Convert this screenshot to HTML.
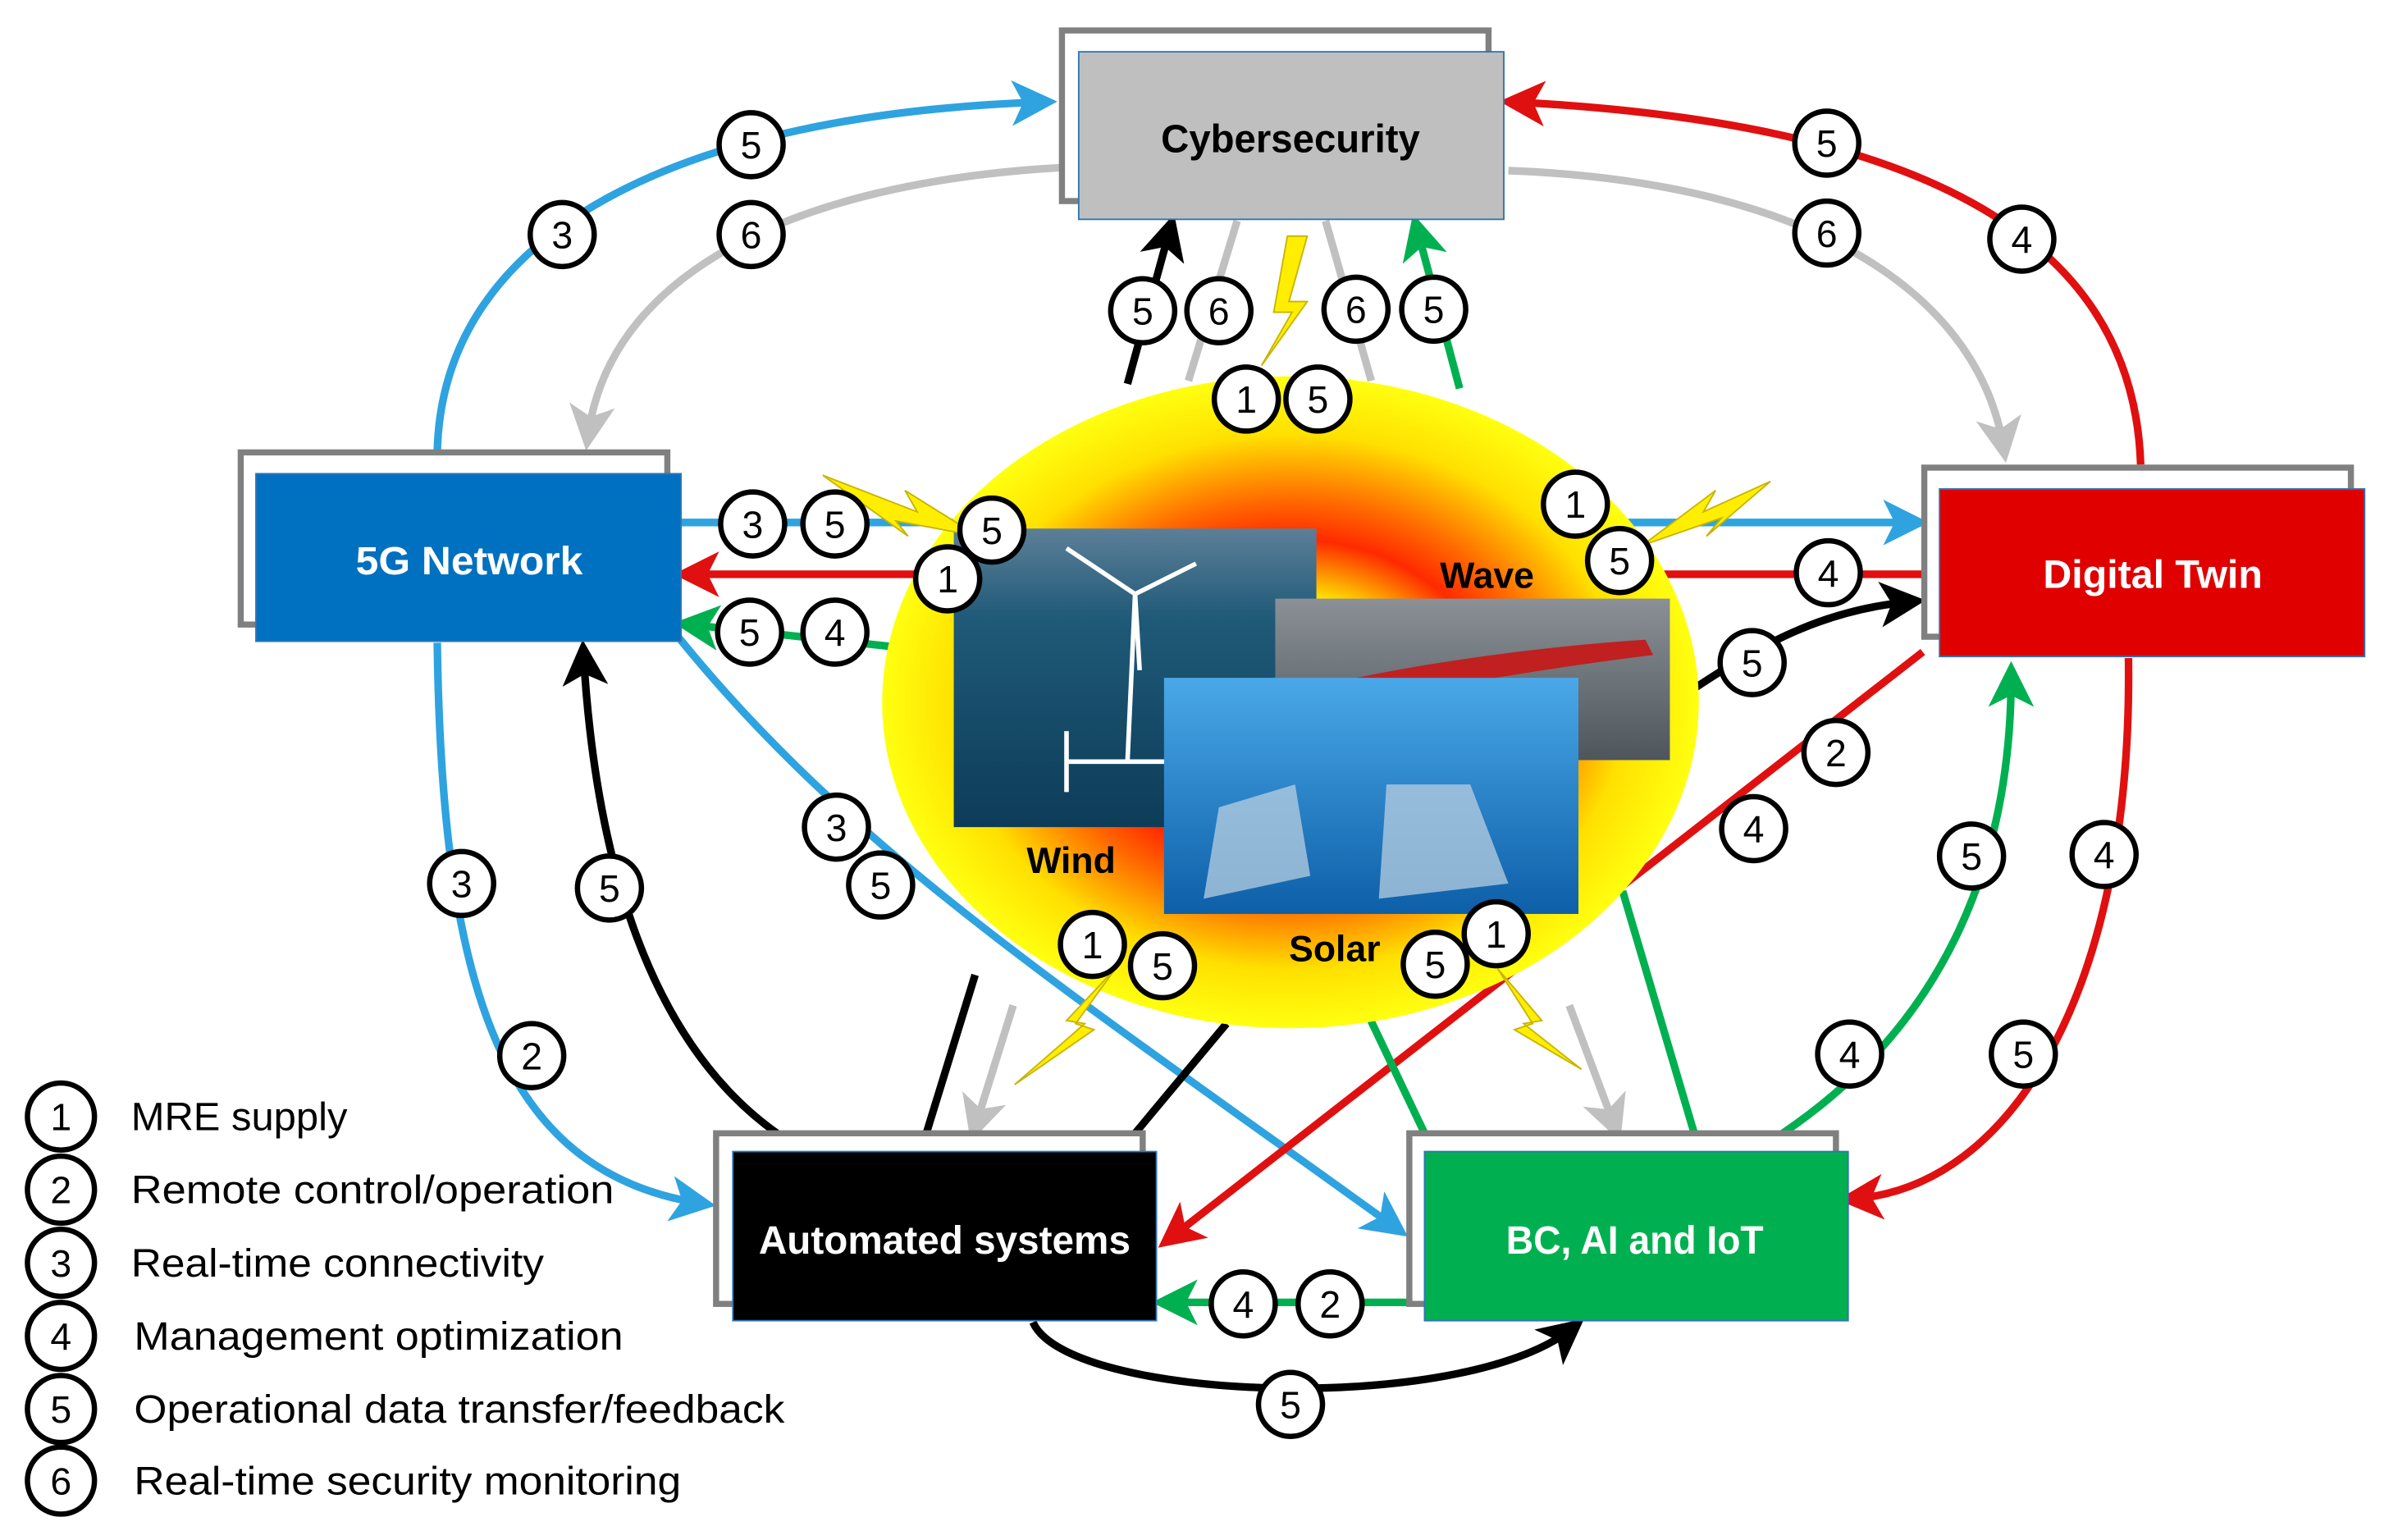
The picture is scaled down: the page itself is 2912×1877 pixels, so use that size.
<!DOCTYPE html>
<html><head><meta charset="utf-8"><style>
html,body{margin:0;padding:0;background:#fff}
svg{display:block}
text{font-family:"Liberation Sans",sans-serif}
</style></head><body>
<svg width="2912" height="1877" viewBox="0 0 1568 1011" preserveAspectRatio="none" xmlns="http://www.w3.org/2000/svg">
<defs>
<radialGradient id="g" cx="50%" cy="50%" r="50%">
<stop offset="0" stop-color="#ffff00"/><stop offset="0.3" stop-color="#ffff00"/>
<stop offset="0.5" stop-color="#ff2a00"/><stop offset="0.62" stop-color="#ff6a00"/>
<stop offset="0.82" stop-color="#ffe000"/><stop offset="1" stop-color="#ffff10"/>
</radialGradient>
<linearGradient id="wind" x1="0" y1="0" x2="0" y2="1"><stop offset="0" stop-color="#5d7f98"/><stop offset="0.3" stop-color="#1f5a78"/><stop offset="1" stop-color="#0d3c58"/></linearGradient>
<linearGradient id="wave" x1="0" y1="0" x2="0" y2="1"><stop offset="0" stop-color="#8a9096"/><stop offset="1" stop-color="#4e565c"/></linearGradient>
<linearGradient id="solar" x1="0" y1="0" x2="0" y2="1"><stop offset="0" stop-color="#4aa8e8"/><stop offset="1" stop-color="#0d5fa8"/></linearGradient>
<marker id="ab" markerWidth="6" markerHeight="6" refX="4" refY="3" orient="auto" markerUnits="strokeWidth"><path d="M0,0 L6,3 L0,6 L1.5,3z" fill="#2ea3e0"/></marker>
<marker id="ar" markerWidth="6" markerHeight="6" refX="4" refY="3" orient="auto" markerUnits="strokeWidth"><path d="M0,0 L6,3 L0,6 L1.5,3z" fill="#e01010"/></marker>
<marker id="ag" markerWidth="6" markerHeight="6" refX="4" refY="3" orient="auto" markerUnits="strokeWidth"><path d="M0,0 L6,3 L0,6 L1.5,3z" fill="#00b050"/></marker>
<marker id="ak" markerWidth="6" markerHeight="6" refX="4" refY="3" orient="auto" markerUnits="strokeWidth"><path d="M0,0 L6,3 L0,6 L1.5,3z" fill="#000"/></marker>
<marker id="ay" markerWidth="6" markerHeight="6" refX="4" refY="3" orient="auto" markerUnits="strokeWidth"><path d="M0,0 L6,3 L0,6 L1.5,3z" fill="#c0c0c0"/></marker>
</defs>

<g fill="none" stroke-width="5">
<path d="M287,297 C290,150 450,75 684,67" stroke="#2ea3e0" marker-end="url(#ab)"/>
<path d="M287,422 C290,650 330,770 460,790" stroke="#2ea3e0" marker-end="url(#ab)"/>
<path d="M447,343 L1256,343" stroke="#2ea3e0" marker-end="url(#ab)"/>
<path d="M445,418 C560,560 700,650 916,806" stroke="#2ea3e0" marker-end="url(#ab)"/>
<path d="M697,110 C520,120 400,180 386,286" stroke="#c0c0c0" marker-end="url(#ay)"/>
<path d="M990,112 C1200,120 1300,200 1315,294" stroke="#c0c0c0" marker-end="url(#ay)"/>
<path d="M812,145 L780,250 M870,145 L900,250" stroke="#c0c0c0"/>
<path d="M665,660 L640,740" stroke="#c0c0c0" marker-end="url(#ay)"/>
<path d="M1030,660 L1060,740" stroke="#c0c0c0" marker-end="url(#ay)"/>
<path d="M1405,305 C1400,150 1250,80 994,67" stroke="#e01010" marker-end="url(#ar)"/>
<path d="M1262,377 L452,377" stroke="#e01010" marker-end="url(#ar)"/>
<path d="M1262,428 L768,813" stroke="#e01010" marker-end="url(#ar)"/>
<path d="M1397,432 C1400,650 1320,780 1216,787" stroke="#e01010" marker-end="url(#ar)"/>
<path d="M1170,744 C1280,670 1320,560 1320,444" stroke="#00b050" marker-end="url(#ag)"/>
<path d="M935,855 L766,855" stroke="#00b050" marker-end="url(#ag)"/>
<path d="M590,425 L452,410" stroke="#00b050" marker-end="url(#ag)"/>
<path d="M935,744 L895,660 M1112,744 L1065,585" stroke="#00b050"/>
<path d="M958,255 L930,150" stroke="#00b050" marker-end="url(#ag)"/>
<path d="M510,744 C420,680 390,550 383,430" stroke="#000" marker-end="url(#ak)"/>
<path d="M678,868 C700,920 960,930 1032,872" stroke="#000" marker-end="url(#ak)"/>
<path d="M740,252 L768,150" stroke="#000" marker-end="url(#ak)"/>
<path d="M608,744 L640,640 M745,744 L805,672" stroke="#000"/>
<path d="M1112,452 C1160,420 1200,400 1254,395" stroke="#000" marker-end="url(#ak)"/>
</g>

<ellipse cx="847" cy="461" rx="268" ry="214" fill="url(#g)"/>
<rect x="626" y="347" width="238" height="196" fill="url(#wind)"/>
<g stroke="#fff" stroke-width="3" fill="none"><path d="M740,500 L745,390 M745,390 L700,360 M745,390 L785,370 M745,390 L748,440 M700,500 L780,500 M700,480 L700,520"/></g>
<rect x="837" y="393" width="259" height="106" fill="url(#wave)"/>
<path d="M850,455 C900,440 1000,425 1080,420 L1085,430 C1000,440 900,460 852,465z" fill="#c02020"/>
<rect x="764" y="445" width="272" height="155" fill="url(#solar)"/>
<g fill="#b8cfe0" opacity="0.75">
<path d="M800,530 L850,515 L860,575 L790,590z"/>
<path d="M910,515 L965,515 L990,580 L905,590z"/>
</g>
<g font-weight="bold" font-size="24" fill="#000">
<text x="703" y="573" text-anchor="middle">Wind</text>
<text x="976" y="386" text-anchor="middle">Wave</text>
<text x="876" y="631" text-anchor="middle">Solar</text>
</g>

<g fill="#ffee00" stroke="#c8b400" stroke-width="1">
<path d="M845,155 L836,205 L848,205 L828,240 L858,198 L846,198 L858,155z"/>
<path d="M540,312 L602,336 L594,322 L642,352 L588,342 L596,352z"/>
<path d="M1162,316 L1118,336 L1126,322 L1078,358 L1130,340 L1120,352z"/>
<path d="M732,636 L700,670 L712,672 L666,712 L718,676 L706,672z"/>
<path d="M983,636 L1012,670 L1000,672 L1038,702 L994,676 L1006,672z"/>
</g>

<g stroke="#808080" stroke-width="4" fill="#fff">
<rect x="697" y="20" width="280" height="112"/>
<rect x="158" y="297" width="280" height="113"/>
<rect x="1263" y="307" width="280" height="111"/>
<rect x="470" y="744" width="280" height="112"/>
<rect x="925" y="744" width="280" height="112"/>
</g>
<g stroke="#2e75b6" stroke-width="1">
<rect x="708" y="34" width="279" height="110" fill="#bfbfbf"/>
<rect x="168" y="311" width="279" height="110" fill="#0070c0"/>
<rect x="1273" y="321" width="279" height="110" fill="#e00000"/>
<rect x="481" y="756" width="278" height="111" fill="#000"/>
<rect x="935" y="756" width="278" height="111" fill="#00b050"/>
</g>
<g font-weight="bold" font-size="26" text-anchor="middle" lengthAdjust="spacingAndGlyphs">
<text x="847" y="100" fill="#000" textLength="170" lengthAdjust="spacingAndGlyphs">Cybersecurity</text>
<text x="308" y="377" fill="#fff" textLength="149" lengthAdjust="spacingAndGlyphs">5G Network</text>
<text x="1413" y="386" fill="#fff" textLength="144" lengthAdjust="spacingAndGlyphs">Digital Twin</text>
<text x="620" y="823" fill="#fff" textLength="244" lengthAdjust="spacingAndGlyphs">Automated systems</text>
<text x="1073" y="823" fill="#fff" textLength="169" lengthAdjust="spacingAndGlyphs">BC, AI and IoT</text>
</g>

<g font-size="25" text-anchor="middle">
<g fill="#fff" stroke="#000" stroke-width="3.5">
<circle cx="493" cy="95" r="21"/><circle cx="369" cy="154" r="21"/><circle cx="493" cy="154" r="21"/>
<circle cx="1199" cy="94" r="21"/><circle cx="1199" cy="153" r="21"/><circle cx="1327" cy="157" r="21"/>
<circle cx="750" cy="204" r="21"/><circle cx="800" cy="204" r="21"/><circle cx="890" cy="203" r="21"/><circle cx="941" cy="203" r="21"/>
<circle cx="818" cy="262" r="21"/><circle cx="865" cy="262" r="21"/>
<circle cx="494" cy="344" r="21"/><circle cx="548" cy="344" r="21"/><circle cx="651" cy="348" r="21"/><circle cx="622" cy="380" r="21"/>
<circle cx="492" cy="415" r="21"/><circle cx="548" cy="415" r="21"/>
<circle cx="1034" cy="331" r="21"/><circle cx="1063" cy="368" r="21"/><circle cx="1200" cy="376" r="21"/>
<circle cx="1150" cy="435" r="21"/><circle cx="1205" cy="494" r="21"/><circle cx="1151" cy="544" r="21"/>
<circle cx="303" cy="580" r="21"/><circle cx="400" cy="583" r="21"/><circle cx="349" cy="693" r="21"/>
<circle cx="549" cy="543" r="21"/><circle cx="578" cy="581" r="21"/>
<circle cx="717" cy="620" r="21"/><circle cx="763" cy="634" r="21"/><circle cx="982" cy="613" r="21"/><circle cx="942" cy="633" r="21"/>
<circle cx="1294" cy="562" r="21"/><circle cx="1381" cy="561" r="21"/><circle cx="1214" cy="692" r="21"/><circle cx="1328" cy="692" r="21"/>
<circle cx="816" cy="856" r="21"/><circle cx="873" cy="856" r="21"/><circle cx="847" cy="922" r="21"/>
<circle cx="40" cy="733" r="22"/><circle cx="40" cy="781" r="22"/><circle cx="40" cy="829" r="22"/><circle cx="40" cy="877" r="22"/><circle cx="40" cy="925" r="22"/><circle cx="40" cy="972" r="22"/>
</g>
<g fill="#000">
<text x="493" y="104">5</text><text x="369" y="163">3</text><text x="493" y="163">6</text>
<text x="1199" y="103">5</text><text x="1199" y="162">6</text><text x="1327" y="166">4</text>
<text x="750" y="213">5</text><text x="800" y="213">6</text><text x="890" y="212">6</text><text x="941" y="212">5</text>
<text x="818" y="271">1</text><text x="865" y="271">5</text>
<text x="494" y="353">3</text><text x="548" y="353">5</text><text x="651" y="357">5</text><text x="622" y="389">1</text>
<text x="492" y="424">5</text><text x="548" y="424">4</text>
<text x="1034" y="340">1</text><text x="1063" y="377">5</text><text x="1200" y="385">4</text>
<text x="1150" y="444">5</text><text x="1205" y="503">2</text><text x="1151" y="553">4</text>
<text x="303" y="589">3</text><text x="400" y="592">5</text><text x="349" y="702">2</text>
<text x="549" y="552">3</text><text x="578" y="590">5</text>
<text x="717" y="629">1</text><text x="763" y="643">5</text><text x="982" y="622">1</text><text x="942" y="642">5</text>
<text x="1294" y="571">5</text><text x="1381" y="570">4</text><text x="1214" y="701">4</text><text x="1328" y="701">5</text>
<text x="816" y="865">4</text><text x="873" y="865">2</text><text x="847" y="931">5</text>
<text x="40" y="742">1</text><text x="40" y="790">2</text><text x="40" y="838">3</text><text x="40" y="886">4</text><text x="40" y="934">5</text><text x="40" y="981">6</text>
</g>
</g>

<g font-size="26" fill="#000">
<text x="86" y="742" textLength="142" lengthAdjust="spacingAndGlyphs">MRE supply</text>
<text x="86" y="790" textLength="317" lengthAdjust="spacingAndGlyphs">Remote control/operation</text>
<text x="86" y="838" textLength="271" lengthAdjust="spacingAndGlyphs">Real-time connectivity</text>
<text x="88" y="886" textLength="321" lengthAdjust="spacingAndGlyphs">Management optimization</text>
<text x="88" y="934" textLength="427" lengthAdjust="spacingAndGlyphs">Operational data transfer/feedback</text>
<text x="88" y="981" textLength="359" lengthAdjust="spacingAndGlyphs">Real-time security monitoring</text>
</g>
</svg>
</body></html>
